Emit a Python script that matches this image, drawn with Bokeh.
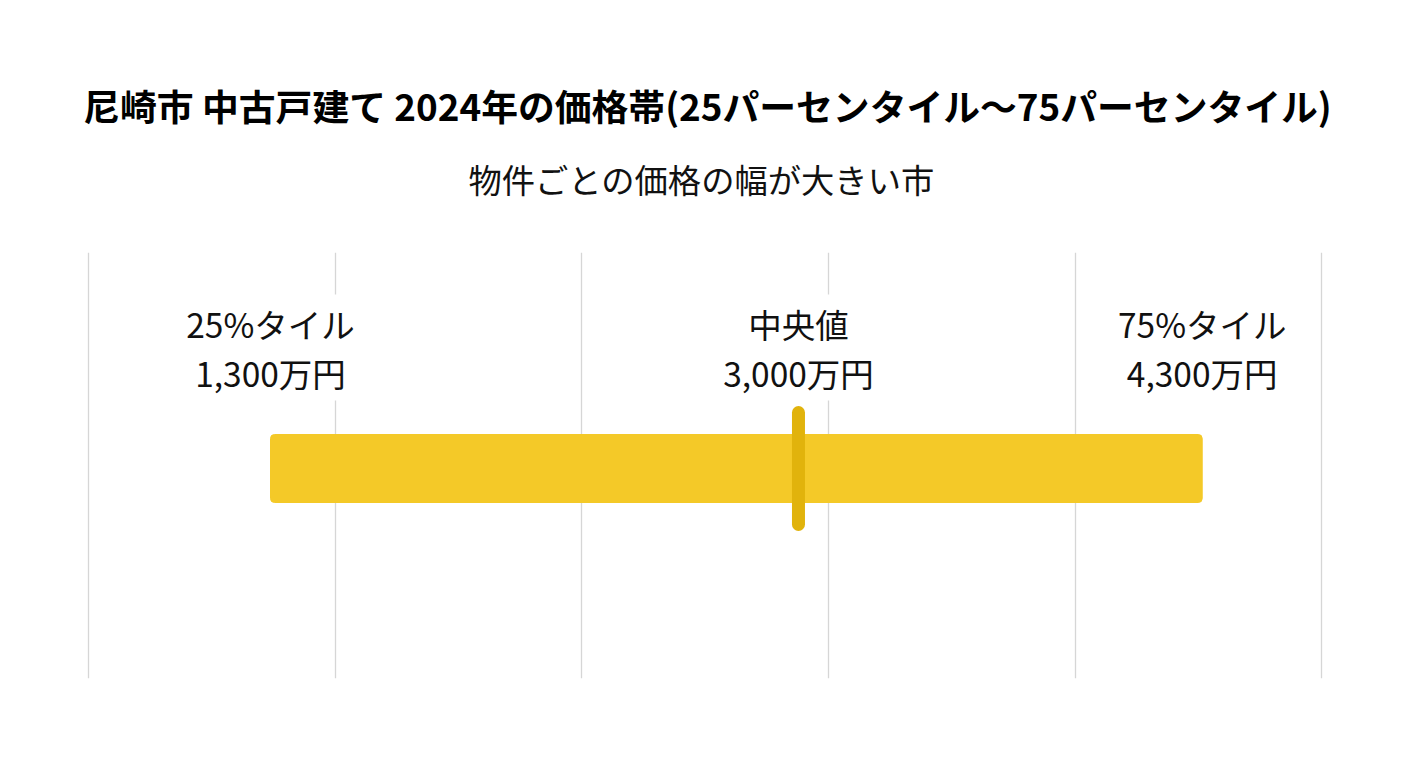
from bokeh.plotting import figure
from bokeh.layouts import column
from bokeh.models import Range1d, Grid, FixedTicker, Label, ColumnDataSource
from bokeh.core.properties import value
from bokeh.embed import file_html
from bokeh.resources import INLINE

# ---- data ----
title_text = "尼崎市 中古戸建て 2024年の価格帯(25パーセンタイル〜75パーセンタイル)"
subtitle_text = "物件ごとの価格の幅が大きい市"
p25 = 1300
median = 3000
p75 = 4300
label_names = ["25%タイル", "中央値", "75%タイル"]
label_values = [p25, median, p75]
grid_ticks = [0, 1, 2, 3, 4, 5]

FONT = "Noto Sans CJK JP"
BAR_COLOR = "#F4C928"
MED_COLOR = "#E1B30C"
W = 1392
TOP_H = 252
BOT_H = 500


def blank(fig):
    fig.outline_line_color = None
    fig.xaxis.visible = False
    fig.yaxis.visible = False
    fig.xgrid.visible = False
    fig.ygrid.visible = False


# ---- header figure (title + subtitle) ----
head = figure(width=W, height=TOP_H, output_backend="svg", toolbar_location=None,
              x_range=Range1d(0, 1), y_range=Range1d(0, 1),
              min_border=0, background_fill_color="white", border_fill_color="white")
blank(head)
head.add_layout(Label(x=707, y=TOP_H - 104, x_units="screen", y_units="screen", text=title_text,
                      text_font=FONT, text_font_size="36.8px", text_font_style="bold",
                      text_color="#000000", text_align="center", text_baseline="middle"))
head.add_layout(Label(x=701, y=TOP_H - 178, x_units="screen", y_units="screen", text=subtitle_text,
                      text_font=FONT, text_font_size="33.3px",
                      text_color="#111111", text_align="center", text_baseline="middle"))

# ---- chart figure ----
p = figure(width=W, height=BOT_H, output_backend="svg", toolbar_location=None,
           x_range=Range1d(430.6, 4912.7), y_range=Range1d(-210, 216),
           min_border_left=0, min_border_right=0, min_border_top=0, min_border_bottom=74,
           background_fill_color="white", border_fill_color="white")
blank(p)

p.extra_x_ranges = {"grid": Range1d(-0.3567, 5.2858)}
g = Grid(dimension=0, ticker=FixedTicker(ticks=grid_ticks), x_range_name="grid",
         grid_line_color="#d6d6d6", grid_line_width=1.3)
p.add_layout(g)

# bar
p.hbar(y=[0], left=[p25], right=[p75], height=68, color=BAR_COLOR, border_radius=4)
# median marker
p.segment(x0=[median], x1=[median], y0=[-56], y1=[56], line_width=13,
          line_cap="round", line_color=MED_COLOR)

# labels
texts = [f"{n}\n{v:,}万円" for n, v in zip(label_names, label_values)]
src = ColumnDataSource(dict(x=label_values, y=[121] * 3, t=texts))
p.text(x="x", y="y", text="t", source=src, text_font=value(FONT), text_font_size="33.5px",
       text_color="#111111", text_align="center", text_baseline="middle",
       text_line_height=1.0, background_fill_color="white", padding=4)

layout = column(head, p, spacing=0)
open("out.html", "w").write(file_html(layout, INLINE))
